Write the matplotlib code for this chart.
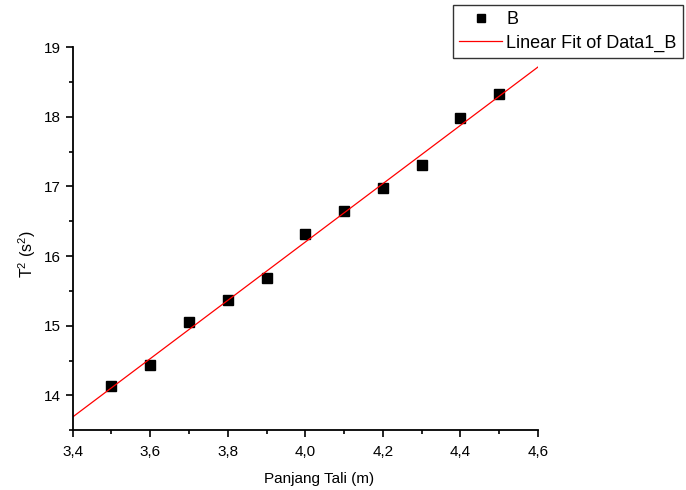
import numpy as np
import matplotlib
matplotlib.use("Agg")
import matplotlib.pyplot as plt
from matplotlib.ticker import MultipleLocator, FuncFormatter

plt.rcParams['font.family'] = ['Liberation Sans', 'DejaVu Sans']
plt.rcParams['mathtext.default'] = 'regular'

# data
panjang = [3.5, 3.6, 3.7, 3.8, 3.9, 4.0, 4.1, 4.2, 4.3, 4.4, 4.5]
t_kuadrat = [14.13, 14.44, 15.05, 15.37, 15.68, 16.32, 16.65, 16.97, 17.30, 17.98, 18.32]

# linear fit
slope, intercept = np.polyfit(panjang, t_kuadrat, 1)
x_fit = np.array([3.4, 4.6])
y_fit = slope * x_fit + intercept

fig = plt.figure(figsize=(6.86, 4.9), dpi=100)
ax = fig.add_axes([0.106, 0.122, 0.678, 0.782])

ax.plot(panjang, t_kuadrat, 's', color='black', markersize=6.5, label='B')
ax.plot(x_fit, y_fit, '-', color='red', linewidth=0.9, label='Linear Fit of Data1_B')

ax.set_xlim(3.4, 4.6)
ax.set_ylim(13.5, 19)
ax.xaxis.set_major_locator(MultipleLocator(0.2))
ax.xaxis.set_minor_locator(MultipleLocator(0.1))
ax.yaxis.set_major_locator(MultipleLocator(1))
ax.yaxis.set_minor_locator(MultipleLocator(0.5))
ax.xaxis.set_major_formatter(FuncFormatter(lambda v, p: f"{v:.1f}".replace('.', ',')))
ax.yaxis.set_major_formatter(FuncFormatter(lambda v, p: f"{v:.0f}"))

for s in ['top', 'right']:
    ax.spines[s].set_visible(False)
for s in ['left', 'bottom']:
    ax.spines[s].set_linewidth(1.3)
ax.tick_params(which='major', direction='out', length=5, width=1.2, labelsize=11)
ax.tick_params(axis='x', which='major', pad=6)
ax.tick_params(which='minor', direction='out', length=3, width=1.2)

ax.set_xlabel('Panjang Tali (m)', fontsize=11)
ax.xaxis.set_label_coords(0.529, -0.108)
ax.set_ylabel('T$^2$ (s$^2$)', fontsize=11.5)
ax.yaxis.set_label_coords(-0.075, 0.46)

leg = fig.legend(loc='upper left', bbox_to_anchor=(0.660, 0.990), frameon=True,
                 fancybox=False, fontsize=13, borderpad=0.35, handlelength=2.4,
                 handletextpad=0.2, labelspacing=0.35, borderaxespad=0,
                 markerscale=0.8)
leg.get_frame().set_edgecolor('black')
leg.get_frame().set_linewidth(1.0)

fig.savefig('out.png', dpi=100)
